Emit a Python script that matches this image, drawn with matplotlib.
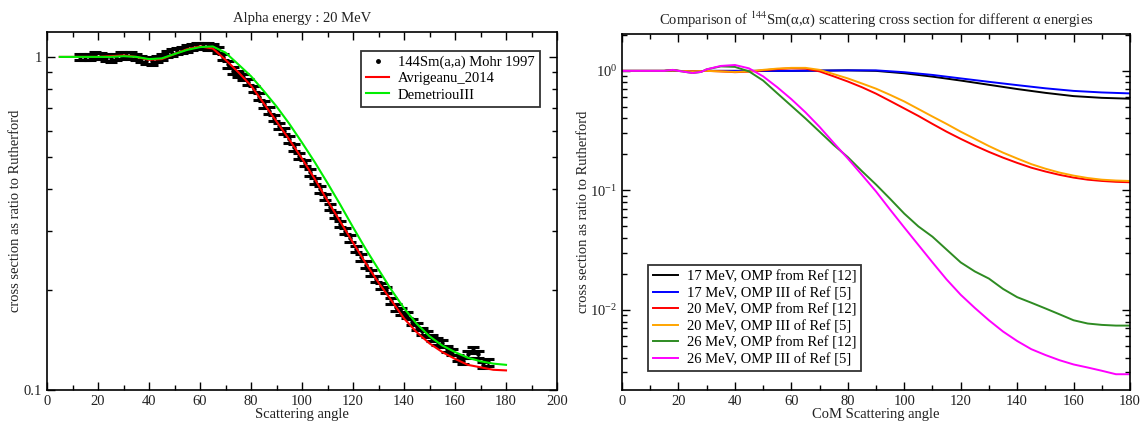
import numpy as np
import matplotlib
matplotlib.use("Agg")
import matplotlib.pyplot as plt
from matplotlib.lines import Line2D
from matplotlib.ticker import FixedLocator, FixedFormatter, MultipleLocator, LogLocator, LogFormatterMathtext, NullFormatter

plt.rcParams['font.family'] = ['Liberation Serif', 'DejaVu Serif']
plt.rcParams['mathtext.fontset'] = 'stix'

# ---- left panel: 20 MeV data and two OMP fits ----
exp_angle = [13, 15, 17, 19, 21, 23, 25, 27, 29, 31, 33, 35, 37, 39, 41, 43, 45, 47, 49, 51,
             53, 55, 57, 59, 61, 63, 65, 67, 69, 71, 73, 75, 77, 79, 81, 83, 85, 87, 89, 91,
             93, 95, 97, 99, 101, 103, 105, 107, 109, 111, 113, 115, 117, 119, 121, 123, 125, 127, 129, 131,
             133, 135, 137, 139, 141, 143, 145, 147, 149, 151, 153, 155, 157, 159, 161, 163, 165, 167, 169, 171, 173]
exp_ratio = [1.00, 1.00, 1.00, 1.01, 1.005, 0.995, 0.99, 1.00, 1.01, 1.015, 1.01, 1.00, 0.985, 0.975, 0.97, 0.985, 1.00, 1.02, 1.03, 1.04,
             1.05, 1.06, 1.07, 1.08, 1.08, 1.075, 1.07, 1.05, 1.00, 0.95, 0.91, 0.89, 0.87, 0.84, 0.80, 0.76, 0.72, 0.69, 0.655, 0.62,
             0.60, 0.565, 0.535, 0.505, 0.48, 0.45, 0.425, 0.40, 0.38, 0.355, 0.335, 0.315, 0.30, 0.285, 0.265, 0.25, 0.238, 0.225, 0.215, 0.205,
             0.20, 0.185, 0.177, 0.172, 0.168, 0.16, 0.155, 0.15, 0.147, 0.143, 0.14, 0.138, 0.133, 0.13, 0.125, 0.122, 0.128, 0.132, 0.128, 0.119, 0.121]

fit_angle = [5, 10, 15, 20, 25, 30, 35, 40, 45, 50, 55, 60, 65, 70, 75, 80, 85, 90, 95, 100,
             105, 110, 115, 120, 125, 130, 135, 140, 145, 150, 155, 160, 165, 170, 175, 180]
avrigeanu = [1.0, 1.0, 1.0, 1.0, 1.005, 1.01, 1.0, 0.98, 0.985, 1.02, 1.055, 1.075, 1.06, 0.98, 0.90, 0.82, 0.725, 0.64, 0.565, 0.495,
             0.43, 0.37, 0.32, 0.277, 0.24, 0.21, 0.186, 0.164, 0.149, 0.138, 0.13, 0.124, 0.119, 0.117, 0.115, 0.1145]
demetriou = [1.0, 1.0, 1.0, 1.0, 1.0, 1.005, 1.0, 0.985, 0.99, 1.02, 1.05, 1.07, 1.075, 1.03, 0.95, 0.875, 0.79, 0.71, 0.63, 0.553,
             0.483, 0.418, 0.36, 0.308, 0.265, 0.23, 0.2, 0.176, 0.158, 0.145, 0.136, 0.13, 0.125, 0.122, 0.12, 0.119]

# ---- right panel: energy comparison ----
ang_17 = [0, 5, 10, 15, 18, 20, 25, 30, 40, 50, 60, 70, 80, 90, 100, 110, 120, 130, 140, 150, 160, 170, 180]
e17_ref12 = [1.0, 1.0, 1.0, 1.0, 1.01, 1.0, 0.99, 1.0, 1.0, 1.0, 1.0, 1.005, 1.01, 1.0, 0.955, 0.895, 0.83, 0.765, 0.705, 0.655, 0.615, 0.595, 0.585]
e17_omp3 = [1.0, 1.0, 1.0, 1.0, 1.01, 1.0, 0.99, 1.0, 1.0, 1.0, 1.0, 1.005, 1.01, 1.01, 0.975, 0.925, 0.865, 0.81, 0.76, 0.715, 0.68, 0.66, 0.648]

ang = [0, 5, 10, 15, 18, 20, 25, 28, 30, 35, 40, 45, 50, 55, 60, 65, 70, 75, 80, 85, 90, 95, 100,
       105, 110, 115, 120, 125, 130, 135, 140, 145, 150, 155, 160, 165, 170, 175, 180]
e20_ref12 = [1.0, 1.0, 1.0, 1.0, 1.01, 1.0, 0.99, 0.995, 1.0, 0.99, 0.975, 0.985, 1.01, 1.035, 1.05, 1.045, 0.99, 0.90, 0.815, 0.73, 0.645, 0.56, 0.485,
             0.42, 0.36, 0.31, 0.27, 0.237, 0.21, 0.188, 0.17, 0.155, 0.144, 0.135, 0.128, 0.123, 0.12, 0.118, 0.117]
e20_omp3 = [1.0, 1.0, 1.0, 1.0, 1.01, 1.0, 0.99, 0.995, 1.0, 0.99, 0.98, 0.99, 1.02, 1.045, 1.06, 1.06, 1.02, 0.94, 0.865, 0.785, 0.71, 0.63, 0.555,
            0.48, 0.415, 0.36, 0.31, 0.27, 0.235, 0.207, 0.185, 0.166, 0.152, 0.141, 0.133, 0.127, 0.123, 0.121, 0.12]
e26_ref12 = [1.0, 1.0, 1.0, 1.0, 1.015, 1.0, 0.96, 0.98, 1.03, 1.09, 1.08, 0.99, 0.83, 0.65, 0.51, 0.40, 0.31, 0.24, 0.19, 0.145, 0.112, 0.085, 0.064,
             0.05, 0.041, 0.032, 0.025, 0.021, 0.0183, 0.015, 0.0128, 0.0115, 0.0103, 0.0092, 0.0082, 0.0077, 0.0075, 0.0074, 0.0074]
e26_omp3 = [1.0, 1.0, 1.0, 1.0, 1.02, 1.0, 0.96, 0.98, 1.03, 1.10, 1.12, 1.05, 0.90, 0.73, 0.58, 0.45, 0.34, 0.25, 0.185, 0.135, 0.098, 0.069, 0.049,
            0.035, 0.025, 0.018, 0.0134, 0.0104, 0.0082, 0.0066, 0.0055, 0.0047, 0.0042, 0.0038, 0.0035, 0.0033, 0.0031, 0.0029, 0.0029]

txt = '#222222'
fs = 10.5
fig = plt.figure(figsize=(11.44, 4.26), dpi=100)
ax1 = fig.add_axes([0.0411, 0.0845, 0.4458, 0.841])
ax2 = fig.add_axes([0.5437, 0.0845, 0.4441, 0.836])

# left
err = [0.022 * v for v in exp_ratio]
ax1.errorbar(exp_angle, exp_ratio, yerr=err, fmt='o', ms=2.2, color='black', ecolor='black',
             elinewidth=1.0, capsize=4, capthick=2.2, zorder=2)
ax1.plot(fit_angle, avrigeanu, color='#ff0000', lw=1.5, zorder=3)
ax1.plot(fit_angle, demetriou, color='#00ee00', lw=1.5, zorder=3)
ax1.set_yscale('log')
ax1.set_xlim(0, 200)
ax1.set_ylim(0.1, 1.19)
ax1.xaxis.set_major_locator(MultipleLocator(20))
ax1.xaxis.set_minor_locator(MultipleLocator(10))
ax1.yaxis.set_major_locator(FixedLocator([0.1, 1]))
ax1.yaxis.set_major_formatter(FixedFormatter(['0.1', '1']))
ax1.yaxis.set_minor_locator(LogLocator(base=10, subs=np.arange(2, 10)))
ax1.yaxis.set_minor_formatter(NullFormatter())
ax1.set_title('Alpha energy : 20 MeV', fontsize=fs, color=txt, pad=7)
ax1.set_xlabel('Scattering angle', fontsize=fs, color=txt, labelpad=0)
ax1.set_ylabel('cross section as ratio to Rutherford', fontsize=10.5, color=txt, labelpad=1)
handles1 = [Line2D([], [], ls='none', marker='o', ms=2.5, color='black'),
            Line2D([], [], color='#ff0000', lw=1.5),
            Line2D([], [], color='#00ee00', lw=1.5)]
labels1 = ['144Sm(a,a) Mohr 1997', 'Avrigeanu_2014', 'DemetriouIII']
leg1 = ax1.legend(handles1, labels1, loc='upper right', bbox_to_anchor=(0.966, 0.947), fontsize=fs, frameon=True,
                  fancybox=False, handlelength=1.6, handletextpad=0.6, borderpad=0.35, labelspacing=0.2,
                  borderaxespad=0)
leg1.get_frame().set_edgecolor('black')
leg1.get_frame().set_linewidth(1.3)

# right
ax2.plot(ang_17, e17_ref12, color='black', lw=1.4, label='17 MeV, OMP from Ref [12]')
ax2.plot(ang_17, e17_omp3, color='#0000ff', lw=1.4, label='17 MeV, OMP III of Ref [5]')
ax2.plot(ang, e20_ref12, color='#ff0000', lw=1.4, label='20 MeV, OMP from Ref [12]')
ax2.plot(ang, e20_omp3, color='#ffa500', lw=1.4, label='20 MeV, OMP III of Ref [5]')
ax2.plot(ang, e26_ref12, color='#2e8b22', lw=1.4, label='26 MeV, OMP from Ref [12]')
ax2.plot(ang, e26_omp3, color='#ff00ff', lw=1.4, label='26 MeV, OMP III of Ref [5]')
ax2.set_yscale('log')
ax2.set_xlim(0, 180)
ax2.set_ylim(0.00214, 2.04)
ax2.xaxis.set_major_locator(MultipleLocator(20))
ax2.xaxis.set_minor_locator(MultipleLocator(10))
ax2.yaxis.set_major_locator(FixedLocator([0.01, 0.1, 1]))
ax2.yaxis.set_major_formatter(LogFormatterMathtext())
ax2.yaxis.set_minor_locator(LogLocator(base=10, subs=np.arange(2, 10)))
ax2.yaxis.set_minor_formatter(NullFormatter())
ax2.set_title(r'Comparison of $^{144}$Sm(α,α) scattering cross section for different α energies',
              fontsize=fs, color=txt, pad=7)
ax2.set_xlabel('CoM Scattering angle', fontsize=fs, color=txt, labelpad=0)
ax2.set_ylabel('cross section as ratio to Rutherford', fontsize=10.5, color=txt, labelpad=0)
leg2 = ax2.legend(loc='lower left', bbox_to_anchor=(0.051, 0.053), fontsize=fs, frameon=True, fancybox=False,
                  handlelength=1.7, handletextpad=0.6, borderpad=0.35, labelspacing=0.22, borderaxespad=0)
leg2.get_frame().set_edgecolor('black')
leg2.get_frame().set_linewidth(1.3)

for ax in (ax1, ax2):
    ax.tick_params(which='both', direction='in', top=True, right=True, labelsize=fs, labelcolor=txt)
    ax.tick_params(which='major', length=6, width=1.0)
    ax.tick_params(which='minor', length=3.5, width=1.0)
    for s in ax.spines.values():
        s.set_linewidth(1.2)

fig.savefig('out.png', dpi=100)
